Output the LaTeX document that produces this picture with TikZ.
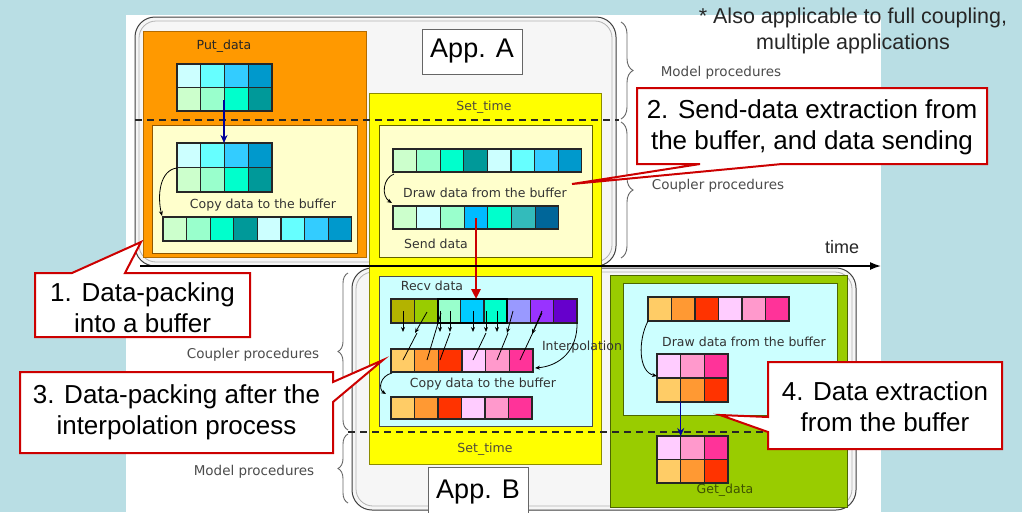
\documentclass[tikz,border=0pt]{standalone}
\usepackage{fontspec}
\setmainfont{Liberation Sans}
\newfontfamily\lblfont{DejaVu Sans}
\usetikzlibrary{arrows.meta,decorations.pathreplacing}
\definecolor{bgblue}{HTML}{B9DEE4}
\definecolor{boxgray}{HTML}{F6F6F6}
\definecolor{orng}{HTML}{FF9900}
\definecolor{orngd}{HTML}{B36B00}
\definecolor{ltyel}{HTML}{FFFFCC}
\definecolor{yel}{HTML}{FFFF00}
\definecolor{yeld}{HTML}{8C8C00}
\definecolor{ltcy}{HTML}{CCFFFF}
\definecolor{grn}{HTML}{99CC00}
\definecolor{grnd}{HTML}{4D6600}
\definecolor{calred}{HTML}{CC0000}
\definecolor{ca}{HTML}{CCFFFF}
\definecolor{cb}{HTML}{66FFFF}
\definecolor{cc}{HTML}{33CCFF}
\definecolor{cd}{HTML}{0099CC}
\definecolor{ga}{HTML}{CCFFCC}
\definecolor{gb}{HTML}{99FFCC}
\definecolor{gc}{HTML}{00FFCC}
\definecolor{gd}{HTML}{009999}
\definecolor{sk}{HTML}{00BBFF}
\definecolor{tm}{HTML}{33BBBB}
\definecolor{db}{HTML}{006699}
\definecolor{ol}{HTML}{B3B300}
\definecolor{yg}{HTML}{99CC00}
\definecolor{ska}{HTML}{00CCFF}
\definecolor{lav}{HTML}{9999FF}
\definecolor{pur}{HTML}{9933FF}
\definecolor{dpur}{HTML}{6600CC}
\definecolor{oa}{HTML}{FFCC66}
\definecolor{ob}{HTML}{FF9933}
\definecolor{oc}{HTML}{FF3300}
\definecolor{pa}{HTML}{FFCCFF}
\definecolor{pb}{HTML}{FF99CC}
\definecolor{pc}{HTML}{FF3399}
\definecolor{navy}{HTML}{000099}
\newcommand\cellrow[5]{\foreach \cc [count=\ii from 0] in {#5}{\draw[cellline,fill=\cc] ({#1+\ii*#3},#2) rectangle ++(#3,#4);}}
\tikzset{
 cellline/.style={draw=black!85, line width=1.1pt},
 lbl/.style={font=\lblfont\fontsize{12.5}{14}\selectfont, text=black!80, inner sep=0},
 side/.style={font=\lblfont\fontsize{13.5}{15}\selectfont, text=black!70, inner sep=0},
 callout/.style={draw=calred, line width=2pt, fill=white, line join=miter},
 ctext/.style={font=\fontsize{26}{31}\selectfont, align=center, inner sep=0},
 thinarrow/.style={-{Stealth[length=5pt,width=4pt]}, line width=0.8pt, draw=black},
 brc/.style={decorate, decoration={brace, amplitude=#1}, draw=black!60, line width=0.9pt},
 dashline/.style={dash pattern=on 7pt off 5pt, line width=1.3pt, draw=black!85},
 appbox/.style={draw=black!75, line width=1pt, fill=boxgray, rounded corners=20pt},
 applabel/.style={draw=black!60, fill=white, line width=0.8pt, font=\fontsize{27}{30}\selectfont, minimum width=100pt, inner sep=0}
}
\begin{document}
\begin{tikzpicture}[x=1pt,y=-1pt]
\useasboundingbox (0,0) rectangle (1022,512);
\fill[bgblue] (0,0) rectangle (1022,512);
\fill[white] (126,15) rectangle (881,512);
% application boxes
\draw[appbox] (135,17) rectangle (616,266);
\draw[black!30, line width=0.8pt, rounded corners=17pt] (139,21) rectangle (612,262);
\draw[appbox] (352,268) rectangle (856,510);
\draw[black!30, line width=0.8pt, rounded corners=17pt] (356,272) rectangle (852,506);
% coloured boxes
\draw[fill=orng, draw=orngd, line width=1pt] (143,31) rectangle (366,257);
\draw[fill=ltyel, draw=orngd!80!black, line width=0.8pt] (152,125) rectangle (357,253);
\draw[fill=yel, draw=yeld, line width=1pt] (369,93) rectangle (601,464);
\draw[fill=ltyel, draw=yeld!70!black, line width=0.8pt] (379,125) rectangle (592,257);
\draw[fill=ltcy, draw=black!70, line width=0.8pt] (379,276) rectangle (592,426);
\draw[fill=grn, draw=grnd, line width=1pt] (610,275) rectangle (847,507);
\draw[fill=ltcy, draw=grnd, line width=0.8pt] (623,283) rectangle (837,415);
% labels in boxes
\node[lbl, text=black!85] (putd) at (224,46) {Put\_data};
\node[lbl] (copya) at (263,205) {Copy data to the buffer};
\node[lbl, text=black!80!yellow] (seta) at (484,107) {Set\_time};
\node[lbl] (drawa) at (485,193) {Draw data from the buffer};
\node[lbl] (sendd) at (436,244) {Send data};
\node[lbl] (recvd) at (432,286) {Recv data};
\node[lbl] (interp) at (582,347) {Interpolation};
\node[lbl] (copyb) at (483,384) {Copy data to the buffer};
\node[lbl, text=black!80!yellow] (setb) at (485,449) {Set\_time};
\node[lbl] (drawg) at (744,342) {Draw data from the buffer};
\node[lbl, text=grnd!80!black] (getd) at (725,490) {Get\_data};
% cell grids App A
\cellrow{177}{64}{23.75}{23.5}{ca,cb,cc,cd}
\cellrow{177}{87.5}{23.75}{23.5}{ga,gb,gc,gd}
\cellrow{177}{143}{23.75}{24.5}{ca,cb,cc,cd}
\cellrow{177}{167.5}{23.75}{24.5}{ga,gb,gc,gd}
\cellrow{163}{217}{23.6}{24}{ga,gb,gc,gd,ca,cb,cc,cd}
\cellrow{393}{149}{23.6}{23}{ga,gb,gc,gd,ca,cb,cc,cd}
\cellrow{393}{206}{23.7}{23}{ga,ca,gb,sk,gc,tm,db}
% cell grids App B
\cellrow{391}{299}{23.25}{24}{ol,yg,gb,ska,gc,lav,pur,dpur}
\draw[black, line width=2pt] (437.5,299) rectangle (507.25,323);
\cellrow{391}{349}{23.67}{23}{oa,ob,oc,pa,pb,pc}
\cellrow{391}{397}{23.5}{22}{oa,ob,oc,pa,pb,pc}
\cellrow{648}{297}{23.5}{24}{oa,ob,oc,pa,pb,pc}
\cellrow{657}{354}{23.67}{24}{pa,pb,pc}
\cellrow{657}{378}{23.67}{24}{oa,ob,oc}
\cellrow{657}{436}{23.67}{23.5}{pa,pb,pc}
\cellrow{657}{459.5}{23.67}{23.5}{oa,ob,oc}
% dashed separators
\coordinate (da1) at (135,120); \coordinate (da2) at (619,120);
\coordinate (db1) at (348,432); \coordinate (db2) at (770,432);
\draw[dashline] (da1) -- (da2);
\draw[dashline] (db1) -- (db2);
% arrows App A
\coordinate (pa1) at (224,100); \coordinate (pa2) at (224,143);
\draw[navy, line width=1.2pt, -{Stealth[length=8pt,width=7pt]}] (pa1) -- (pa2);
\coordinate (ca1) at (177,168); \coordinate (ca2) at (162,216);
\draw[thinarrow] (ca1) .. controls (160,170) and (157,195) .. (ca2);
\coordinate (cb1) at (394,174); \coordinate (cb2) at (392,203);
\draw[thinarrow] (cb1) .. controls (383,178) and (381,196) .. (cb2);
\coordinate (rs1) at (476,218); \coordinate (rs2) at (476,299);
\draw[calred, line width=2.5pt, -{Triangle[length=10pt,width=9pt]}] (rs1) -- (rs2);
% interpolation arrows
\foreach \x in {403,440,450,473,486,497} {\draw[thinarrow] (\x,311) -- (\x,332);}
\draw[thinarrow] (427,312) -- (415,333);
\draw[thinarrow] (513,311) -- (507,333);
\draw[thinarrow] (542,311) -- (532,334);
\draw[line width=0.8pt] (403,360) -- (417,333);
\draw[line width=0.8pt] (427,360) -- (441,313);
\draw[line width=0.8pt] (440,360) -- (450,333);
\draw[line width=0.8pt] (473,360) -- (486,333);
\draw[line width=0.8pt] (497,360) -- (508,333);
\draw[line width=0.8pt] (520,360) -- (542,313);
\coordinate (ip1) at (577,322); \coordinate (ip2) at (535,368);
\draw[thinarrow] (ip1) .. controls (578,350) and (560,366) .. (ip2);
\coordinate (cp1) at (392,373); \coordinate (cp2) at (386,394);
\draw[thinarrow] (cp1) .. controls (380,376) and (378,389) .. (cp2);
% arrows green
\coordinate (gr1) at (648,321); \coordinate (gr2) at (657,376);
\draw[thinarrow] (gr1) .. controls (638,340) and (638,372) .. (gr2);
\coordinate (gb1) at (680.7,402); \coordinate (gb2) at (680.7,436);
\draw[navy, line width=1.2pt, -{Stealth[length=8pt,width=7pt]}] (gb1) -- (gb2);
% time axis
\coordinate (t0) at (140,266); \coordinate (t1) at (881,266);
\draw[black, line width=1.6pt, -{Latex[length=11pt,width=8pt]}] (t0) -- (t1);
\node[font=\fontsize{18}{20}\selectfont, text=black!85, inner sep=0] (time) at (842,247) {time};
% braces and side labels
\draw[brc=12] (621,22) -- (621,119);
\draw[brc=12] (621,122) -- (621,258);
\draw[brc=10] (348,430) -- (348,273);
\draw[brc=10] (348,503) -- (348,434);
\node[side] (mpa) at (721,73) {Model procedures};
\node[side] (cpa) at (718,186) {Coupler procedures};
\node[side] (cpb) at (253,355) {Coupler procedures};
\node[side] (mpb) at (254,472) {Model procedures};
% app labels
\node[applabel, minimum height=45pt] (appA) at (472,51.5) {App. A};
\node[applabel, minimum height=50pt] (appB) at (478,492) {\raisebox{2pt}{App. B}};
% note
\node[font=\fontsize{21.5}{26}\selectfont, align=center, text=black!85, inner sep=0] (note) at (853,31) {* Also applicable to full coupling,\\multiple applications};
% callouts
\coordinate (tip1) at (141,242);
\draw[callout] (35,273) -- (72,273) -- (tip1) -- (125,273) -- (250,273) -- (250,337) -- (35,337) -- cycle;
\node[ctext] (c1) at (142.5,308) {1. Data-packing\\into a buffer};
\coordinate (tip2) at (572,184);
\draw[callout] (637,88) -- (987,88) -- (987,164) -- (782,164) -- (tip2) -- (700,164) -- (637,164) -- cycle;
\node[ctext] (c2) at (812,127.5) {2. Send-data extraction from\\the buffer, and data sending};
\coordinate (tip3) at (383,360);
\draw[callout] (20,372) -- (333,372) -- (333,382) -- (tip3) -- (333,402) -- (333,453) -- (20,453) -- cycle;
\node[ctext] (c3) at (176.5,412.5) {3. Data-packing after the\\interpolation process};
\coordinate (tip4) at (720,415);
\draw[callout] (768,362) -- (1002,362) -- (1002,449) -- (768,449) -- (768,432) -- (tip4) -- (768,417) -- cycle;
\node[ctext] (c4) at (885,407) {4. Data extraction\\from the buffer};
\end{tikzpicture}
\end{document}
